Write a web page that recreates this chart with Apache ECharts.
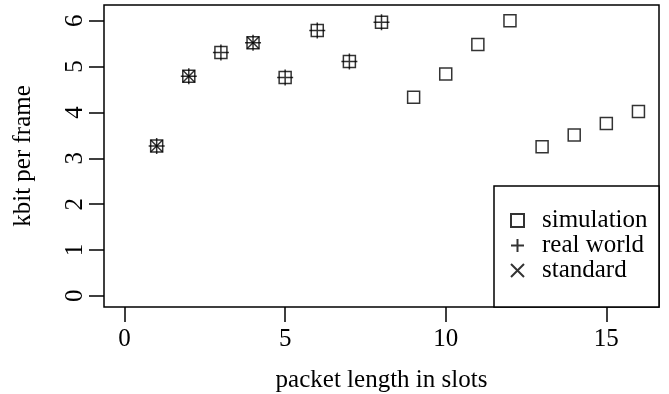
<!DOCTYPE html>
<html>
<head>
<meta charset="utf-8">
<script src="https://cdn.jsdelivr.net/npm/echarts@6/dist/echarts.min.js"></script>
<style>
  html, body { margin: 0; padding: 0; background: #fff; }
  #chart { width: 669px; height: 394px; }
</style>
</head>
<body>
<div id="chart"></div>
<script>
// packet length (slots)
const slots = [1, 2, 3, 4, 5, 6, 7, 8, 9, 10, 11, 12, 13, 14, 15, 16];
const simulation = [3.27, 4.79, 5.31, 5.52, 4.76, 5.79, 5.11, 5.97, 4.33, 4.84, 5.48, 6.0, 3.25, 3.51, 3.76, 4.02];
const realWorldSlots = [1, 2, 3, 4, 5, 6, 7, 8];
const realWorld = [3.27, 4.79, 5.31, 5.52, 4.76, 5.79, 5.11, 5.97];
const standardSlots = [1, 2, 4];
const standard = [3.27, 4.79, 5.52];
const xTicks = [0, 5, 10, 15];
const yTicks = [0, 1, 2, 3, 4, 5, 6];

const FONT = 'Liberation Serif';
const PLUS = 'path://M0,5L10,5M5,0L5,10';
const CROSS = 'path://M0,0L10,10M0,10L10,0';

const pairs = (xs, ys) => xs.map((x, i) => [x, ys[i]]);
const hollow = { color: 'rgba(0,0,0,0)', borderColor: '#000', borderWidth: 1.5 };

const chart = echarts.init(document.getElementById('chart'));

const option = {
  animation: false,
  backgroundColor: '#fff',
  grid: {
    left: 104, right: 10, top: 5, bottom: 87,
    outerBoundsMode: 'none',
    show: true, borderColor: '#000', borderWidth: 1.5
  },
  xAxis: {
    type: 'value',
    min: -0.64, max: 16.64,
    splitLine: { show: false },
    axisLine: { show: false, onZero: false },
    axisTick: { show: true, length: 15, customValues: xTicks, lineStyle: { color: '#000', width: 1.5 } },
    axisLabel: { customValues: xTicks, margin: 20, color: '#000', fontFamily: FONT, fontSize: 25 },
    name: 'packet length in slots',
    nameLocation: 'middle',
    nameGap: 61,
    nameTextStyle: { color: '#000', fontFamily: FONT, fontSize: 25 }
  },
  yAxis: {
    type: 'value',
    min: -0.244, max: 6.344,
    splitLine: { show: false },
    axisLine: { show: false, onZero: false },
    axisTick: { show: true, length: 15, customValues: yTicks, lineStyle: { color: '#000', width: 1.5 } },
    axisLabel: { customValues: yTicks, rotate: 90, margin: 16, color: '#000', fontFamily: FONT, fontSize: 25 },
    name: 'kbit per frame',
    nameLocation: 'middle',
    nameGap: 68,
    nameRotate: 90,
    nameTextStyle: { color: '#000', fontFamily: FONT, fontSize: 25 }
  },
  legend: {
    orient: 'vertical',
    left: 510, top: 208,
    padding: 0,
    itemGap: 0,
    itemWidth: 13, itemHeight: 13,
    z: 10,
    textStyle: { color: '#000', fontFamily: FONT, fontSize: 25, lineHeight: 25, padding: [0, 0, 0, 13] },
    data: ['simulation', 'real world', 'standard']
  },
  graphic: [{
    type: 'rect',
    shape: { x: 494, y: 186, width: 165, height: 121 },
    style: { fill: '#fff', stroke: '#000', lineWidth: 1.5 },
    z: 1
  }],
  series: [
    {
      name: 'simulation', type: 'scatter', symbol: 'rect', symbolSize: 12,
      itemStyle: hollow, data: pairs(slots, simulation), z: 2
    },
    {
      name: 'real world', type: 'scatter', symbol: PLUS, symbolSize: 16,
      itemStyle: hollow, data: pairs(realWorldSlots, realWorld), z: 3
    },
    {
      name: 'standard', type: 'scatter', symbol: CROSS, symbolSize: 12,
      itemStyle: hollow, data: pairs(standardSlots, standard), z: 4
    }
  ]
};
chart.setOption(option);
</script>
</body>
</html>
